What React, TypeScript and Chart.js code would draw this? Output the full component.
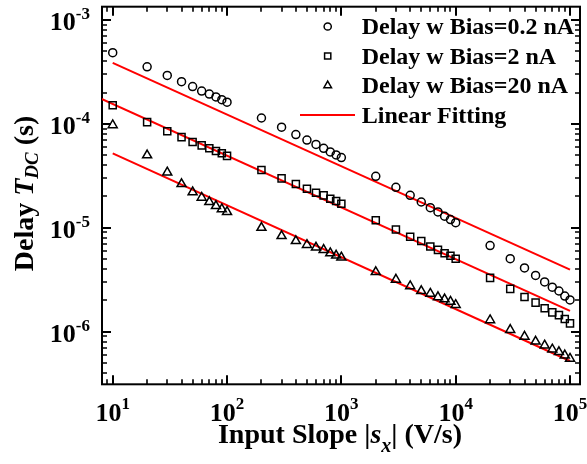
import React, { useEffect, useRef } from 'react';
import { Chart, registerables } from 'chart.js';

Chart.register(...registerables);

// ---------- data ----------
const slopes = [
  10, 20, 30, 40, 50, 60, 70, 80, 90, 100,
  200, 300, 400, 500, 600, 700, 800, 900, 1000,
  2000, 3000, 4000, 5000, 6000, 7000, 8000, 9000, 10000,
  20000, 30000, 40000, 50000, 60000, 70000, 80000, 90000, 100000,
];
const delayBias02 = [
  4.85e-4, 3.55e-4, 2.93e-4, 2.55e-4, 2.29e-4, 2.07e-4, 1.94e-4, 1.82e-4, 1.71e-4, 1.62e-4,
  1.14e-4, 9.3e-5, 7.9e-5, 6.98e-5, 6.35e-5, 5.82e-5, 5.37e-5, 5.03e-5, 4.74e-5,
  3.13e-5, 2.45e-5, 2.05e-5, 1.77e-5, 1.56e-5, 1.42e-5, 1.29e-5, 1.2e-5, 1.12e-5,
  6.74e-6, 5.04e-6, 4.1e-6, 3.47e-6, 3.01e-6, 2.68e-6, 2.46e-6, 2.2e-6, 2.02e-6,
];
const delayBias2 = [
  1.51e-4, 1.04e-4, 8.5e-5, 7.46e-5, 6.69e-5, 6.21e-5, 5.82e-5, 5.49e-5, 5.21e-5, 4.92e-5,
  3.6e-5, 2.99e-5, 2.64e-5, 2.37e-5, 2.17e-5, 2.05e-5, 1.9e-5, 1.81e-5, 1.7e-5,
  1.18e-5, 9.6e-6, 8.2e-6, 7.46e-6, 6.59e-6, 6.12e-6, 5.69e-6, 5.37e-6, 5.03e-6,
  3.29e-6, 2.58e-6, 2.15e-6, 1.9e-6, 1.68e-6, 1.53e-6, 1.44e-6, 1.32e-6, 1.2e-6,
];
const delayBias20 = [
  9.73e-5, 4.99e-5, 3.41e-5, 2.64e-5, 2.2e-5, 1.95e-5, 1.77e-5, 1.62e-5, 1.51e-5, 1.42e-5,
  1.0e-5, 8.33e-6, 7.46e-6, 6.84e-6, 6.45e-6, 6.13e-6, 5.69e-6, 5.41e-6, 5.18e-6,
  3.75e-6, 3.17e-6, 2.74e-6, 2.46e-6, 2.32e-6, 2.15e-6, 2.05e-6, 1.94e-6, 1.81e-6,
  1.29e-6, 1.04e-6, 8.96e-7, 8.03e-7, 7.36e-7, 6.74e-7, 6.36e-7, 5.91e-7, 5.49e-7,
];
const fitX02 = [10, 100000];
const fitY02 = [3.87e-4, 3.95e-6];
const fitX2 = [8, 100000];
const fitY2 = [1.74e-4, 1.58e-6];
const fitX20 = [10, 100000];
const fitY20 = [5.21e-5, 5.21e-7];

const xDecades = [10, 100, 1000, 10000, 100000];
const xExponents = ['1', '2', '3', '4', '5'];
const yDecades = [1e-3, 1e-4, 1e-5, 1e-6];
const yExponents = ['-3', '-4', '-5', '-6'];
const legendLabels = ['Delay w Bias=0.2 nA', 'Delay w Bias=2 nA', 'Delay w Bias=20 nA', 'Linear Fitting'];

const X_MIN = 8.06;
const X_MAX = 1.223e5;
const Y_MIN = 3.107e-7;
const Y_MAX = 1.345e-3;

const FONT = '"Liberation Serif", "Times New Roman", serif';
const RED = '#ff0000';

type Run = { t: string; size: number; italic?: boolean; dy?: number };

function fontOf(r: Run) {
  return `${r.italic ? 'italic ' : ''}bold ${r.size}px ${FONT}`;
}
function runsWidth(ctx: CanvasRenderingContext2D, runs: Run[]) {
  let w = 0;
  for (const r of runs) {
    ctx.font = fontOf(r);
    w += ctx.measureText(r.t).width;
  }
  return w;
}
function drawRuns(ctx: CanvasRenderingContext2D, runs: Run[], x: number, y: number) {
  let cx = x;
  for (const r of runs) {
    ctx.font = fontOf(r);
    ctx.fillText(r.t, cx, y + (r.dy || 0));
    cx += ctx.measureText(r.t).width;
  }
}

function drawMarker(ctx: CanvasRenderingContext2D, style: string, x: number, y: number, r: number) {
  ctx.beginPath();
  if (style === 'circle') {
    ctx.arc(x, y, r, 0, Math.PI * 2);
  } else if (style === 'rect') {
    const s = Math.SQRT1_2 * r;
    ctx.rect(x - s, y - s, 2 * s, 2 * s);
  } else {
    const a = (2 * Math.PI) / 3;
    ctx.moveTo(x, y - r);
    ctx.lineTo(x + Math.sin(a) * r, y - Math.cos(a) * r);
    ctx.lineTo(x + Math.sin(2 * a) * r, y - Math.cos(2 * a) * r);
    ctx.closePath();
  }
  ctx.stroke();
}

const decorPlugin = {
  id: 'decor',
  beforeDatasetsDraw(chart: any) {
    const { ctx, chartArea: a } = chart;
    const xs = chart.scales.x;
    const ys = chart.scales.y;
    ctx.save();
    ctx.strokeStyle = '#000';
    ctx.fillStyle = '#000';

    // x ticks (bottom & top, inward)
    for (let k = Math.floor(Math.log10(X_MIN)); k <= Math.ceil(Math.log10(X_MAX)); k++) {
      for (let m = 1; m <= 9; m++) {
        const v = m * Math.pow(10, k);
        if (v < X_MIN || v > X_MAX) continue;
        const px = Math.round(xs.getPixelForValue(v));
        const len = m === 1 ? 9 : 5;
        ctx.lineWidth = m === 1 ? 2 : 1.6;
        ctx.beginPath();
        ctx.moveTo(px, a.bottom);
        ctx.lineTo(px, a.bottom - len);
        ctx.moveTo(px, a.top);
        ctx.lineTo(px, a.top + len);
        ctx.stroke();
      }
    }
    // y ticks (left & right, inward)
    for (let k = Math.floor(Math.log10(Y_MIN)); k <= Math.ceil(Math.log10(Y_MAX)); k++) {
      for (let m = 1; m <= 9; m++) {
        const v = m * Math.pow(10, k);
        if (v < Y_MIN || v > Y_MAX) continue;
        const py = Math.round(ys.getPixelForValue(v));
        const len = m === 1 ? 9 : 5;
        ctx.lineWidth = m === 1 ? 2 : 1.6;
        ctx.beginPath();
        ctx.moveTo(a.left, py);
        ctx.lineTo(a.left + len, py);
        ctx.moveTo(a.right, py);
        ctx.lineTo(a.right - len, py);
        ctx.stroke();
      }
    }
    // frame
    ctx.lineWidth = 2;
    ctx.strokeRect(a.left, a.top, a.right - a.left, a.bottom - a.top);

    // x tick labels
    ctx.textBaseline = 'alphabetic';
    ctx.textAlign = 'left';
    xDecades.forEach((v, i) => {
      const px = xs.getPixelForValue(v);
      const runs: Run[] = [
        { t: '10', size: 26 },
        { t: xExponents[i], size: 17, dy: -12 },
      ];
      const w = runsWidth(ctx, runs);
      drawRuns(ctx, runs, px - w / 2, 421);
    });
    // y tick labels
    yDecades.forEach((v, i) => {
      const py = ys.getPixelForValue(v);
      const runs: Run[] = [
        { t: '10', size: 26 },
        { t: yExponents[i], size: 17, dy: -11 },
      ];
      const w = runsWidth(ctx, runs);
      drawRuns(ctx, runs, 90 - w, py + 10);
    });

    // x title
    const xt: Run[] = [
      { t: 'Input Slope |', size: 28 },
      { t: 's', size: 28, italic: true },
      { t: 'x', size: 20, italic: true, dy: 9 },
      { t: '| (V/s)', size: 28 },
    ];
    const xw = runsWidth(ctx, xt);
    drawRuns(ctx, xt, 340 - xw / 2, 443);

    // y title
    const yt: Run[] = [
      { t: 'Delay ', size: 28 },
      { t: 'T', size: 28, italic: true },
      { t: 'DC', size: 19, italic: true, dy: 5 },
      { t: ' (s)', size: 28 },
    ];
    const yw = runsWidth(ctx, yt);
    ctx.translate(33, 193.5);
    ctx.rotate(-Math.PI / 2);
    drawRuns(ctx, yt, -yw / 2, 0);
    ctx.restore();
  },
  afterDatasetsDraw(chart: any) {
    const { ctx } = chart;
    ctx.save();
    ctx.fillStyle = '#000';
    ctx.strokeStyle = '#000';
    ctx.lineWidth = 1.5;
    ctx.textAlign = 'left';
    ctx.textBaseline = 'alphabetic';
    const styles = ['circle', 'rect', 'triangle'];
    const baselines = [34, 63.5, 93, 122.5];
    legendLabels.forEach((label, i) => {
      const by = baselines[i];
      const my = by - 7.5;
      if (i < 3) {
        drawMarker(ctx, styles[i], 327.7, my, i === 0 ? 3.6 : 4.4);
      } else {
        ctx.save();
        ctx.strokeStyle = RED;
        ctx.lineWidth = 2;
        ctx.beginPath();
        ctx.moveTo(300, my);
        ctx.lineTo(355, my);
        ctx.stroke();
        ctx.restore();
      }
      ctx.font = `bold 24px ${FONT}`;
      ctx.fillText(label, 361.7, by);
    });
    ctx.restore();
  },
};

function pts(xs: number[], ys: number[]) {
  return xs.map((x, i) => ({ x, y: ys[i] }));
}

export default function App() {
  const ref = useRef<HTMLCanvasElement | null>(null);
  useEffect(() => {
    if (!ref.current) return;
    const markerBase = {
      type: 'scatter' as const,
      showLine: false,
      borderColor: '#000',
      backgroundColor: 'rgba(0,0,0,0)',
      pointBorderWidth: 1.5,
    };
    const lineBase = {
      type: 'line' as const,
      showLine: true,
      borderColor: RED,
      borderWidth: 2,
      pointRadius: 0,
      fill: false,
    };
    const chart = new Chart(ref.current, {
      type: 'scatter',
      data: {
        datasets: [
          { ...markerBase, label: legendLabels[0], data: pts(slopes, delayBias02), pointStyle: 'circle', pointRadius: 4 },
          { ...markerBase, label: legendLabels[1], data: pts(slopes, delayBias2), pointStyle: 'rect', pointRadius: 5 },
          { ...markerBase, label: legendLabels[2], data: pts(slopes, delayBias20), pointStyle: 'triangle', pointRadius: 5.2 },
          { ...lineBase, label: 'fit 0.2', data: pts(fitX02, fitY02) },
          { ...lineBase, label: 'fit 2', data: pts(fitX2, fitY2) },
          { ...lineBase, label: 'fit 20', data: pts(fitX20, fitY20) },
        ] as any,
      },
      options: {
        responsive: false,
        animation: false,
        devicePixelRatio: 1,
        layout: { padding: { left: 102, right: 7, top: 2.5, bottom: 79.7 } },
        scales: {
          x: { type: 'logarithmic', display: false, min: X_MIN, max: X_MAX },
          y: { type: 'logarithmic', display: false, min: Y_MIN, max: Y_MAX },
        },
        plugins: { legend: { display: false }, tooltip: { enabled: false } },
      },
      plugins: [decorPlugin],
    });
    return () => chart.destroy();
  }, []);
  return (
    <div style={{ position: 'absolute', left: 0, top: 0, width: 587, height: 464, background: '#fff' }}>
      <canvas ref={ref} width={587} height={464} style={{ display: 'block' }} />
    </div>
  );
}
